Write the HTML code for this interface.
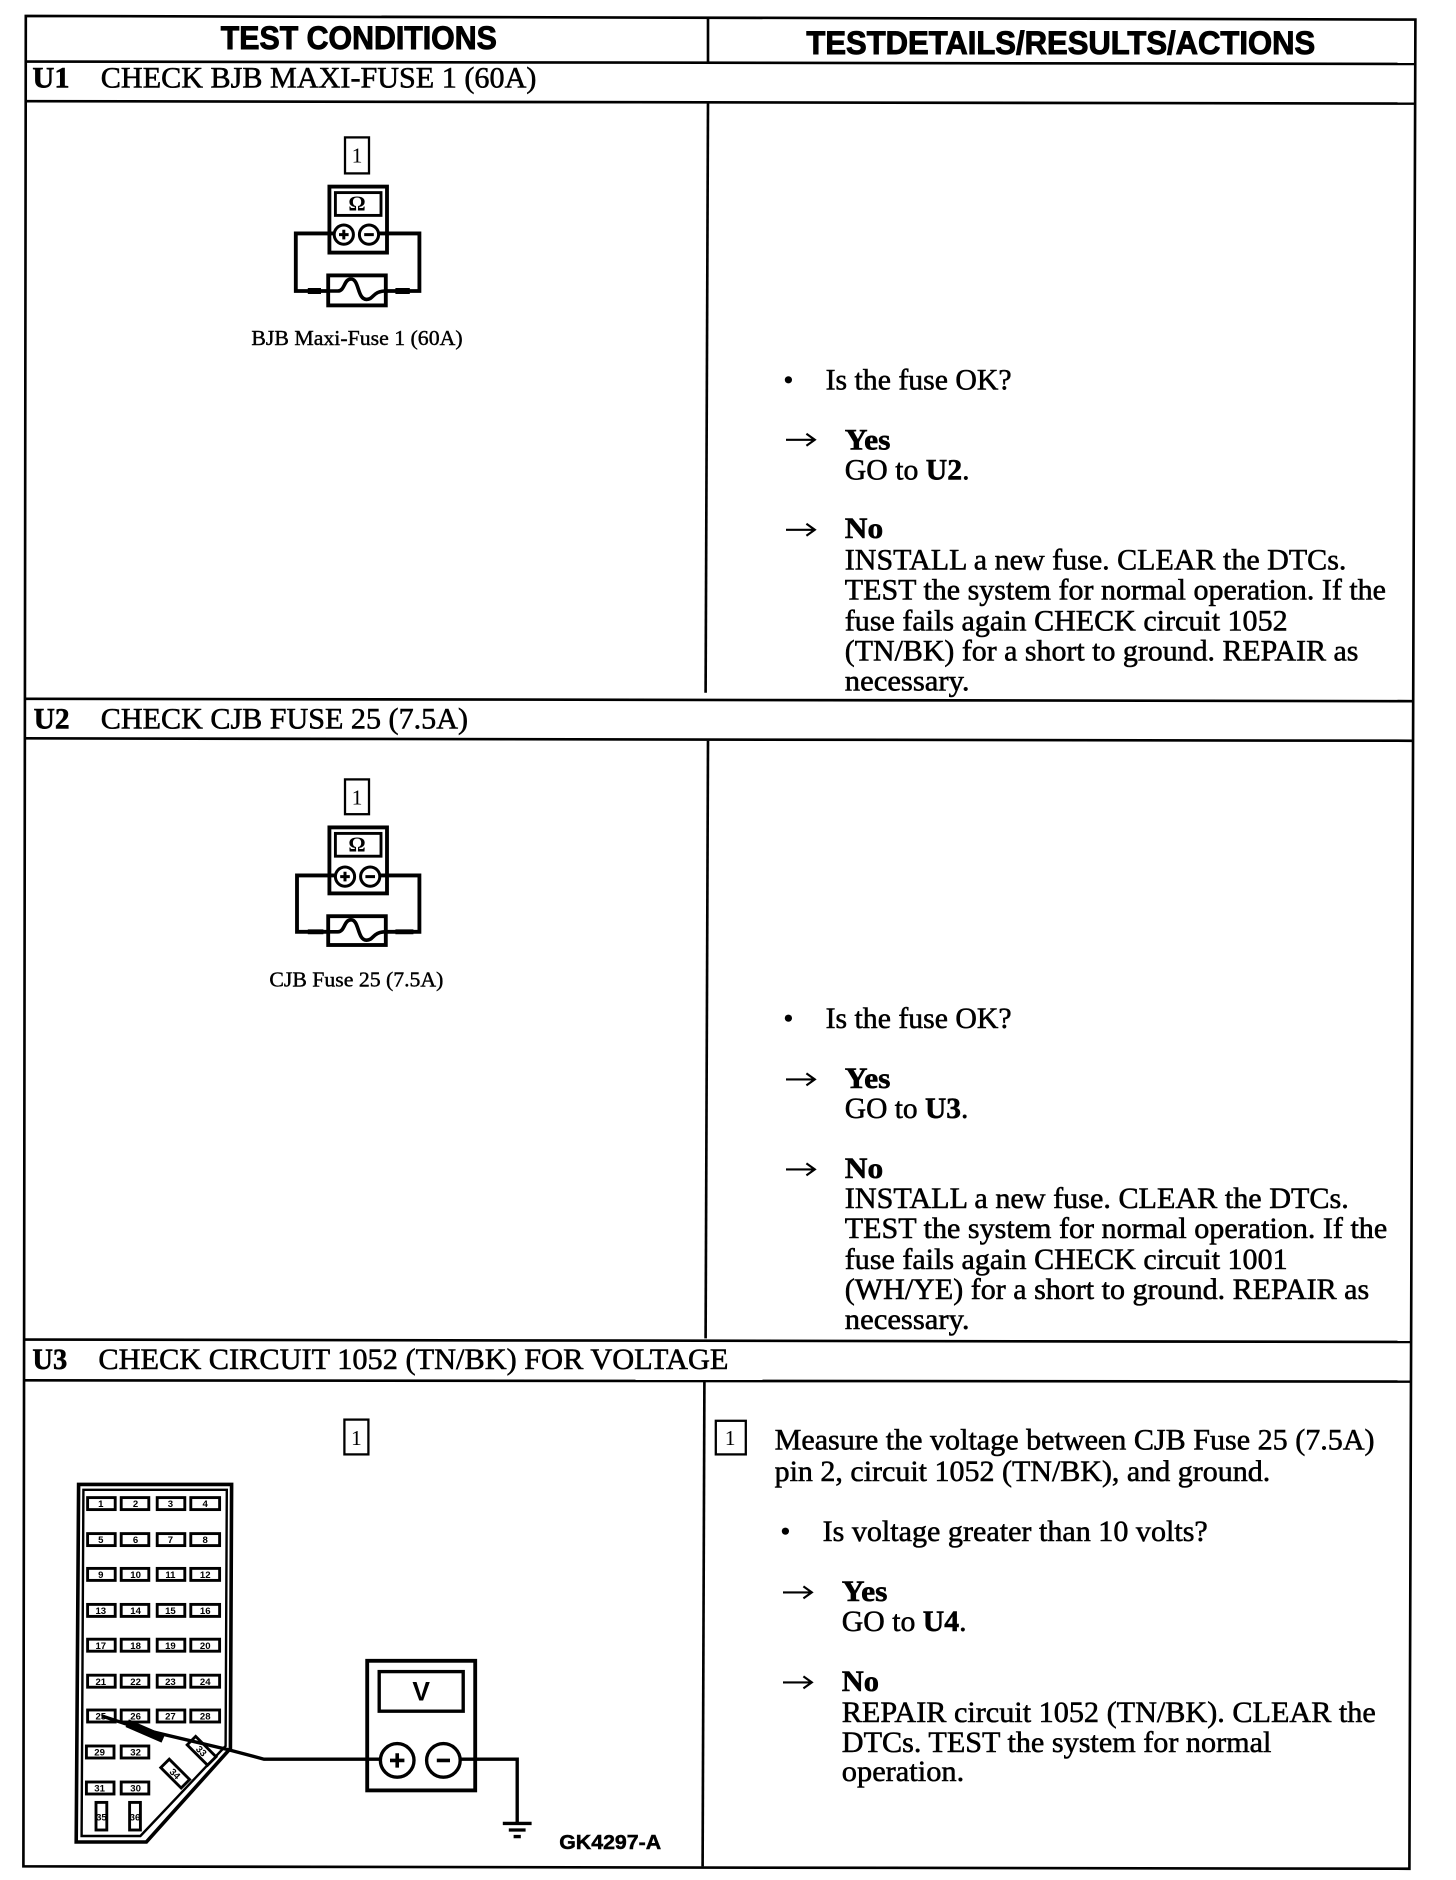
<!DOCTYPE html>
<html><head><meta charset="utf-8"><style>
html,body{margin:0;padding:0;background:#fff;width:1456px;height:1880px;overflow:hidden}
svg{display:block}
.l{stroke:#000;stroke-width:2.200;fill:none}
.s{font-family:"Liberation Serif",serif;font-size:24.500px;fill:#000;stroke:#000;stroke-width:.45}
.b{font-weight:bold}
.h{font-family:"Liberation Sans",sans-serif;font-weight:bold;font-size:27px;fill:#000;stroke:#000;stroke-width:.8}
.c{font-family:"Liberation Serif",serif;font-size:18px;fill:#000;stroke:#000;stroke-width:.35}
.n{font-family:"Liberation Serif",serif;font-size:18px;fill:#000;text-anchor:middle}
.m{stroke:#000;stroke-width:3.200;fill:none}
.f rect{fill:#fff;stroke:#000;stroke-width:2.400}
.f text{font-family:"Liberation Sans",sans-serif;font-weight:bold;font-size:8px;fill:#000;text-anchor:middle}
</style></head><body>
<svg width="1456" height="1880" viewBox="0 0 1213.33 1566.67" xmlns="http://www.w3.org/2000/svg">
<rect x="0" y="0" width="1213.33" height="1566.67" fill="#fff"/>

<!-- table frame -->
<g class="l" transform="translate(-0.500,-0.700)">
<path d="M22 14 L1180 17 L1175 1558 L20 1556 Z"/>
<path d="M22 52 L1180 54"/>
<path d="M22 85 L1179 87"/>
<path d="M21 583 L1178 585"/>
<path d="M21 616 L1178 618"/>
<path d="M21 1117 L1176 1119"/>
<path d="M21 1151 L1176 1152"/>
<path d="M590.500 15 L590.500 52"/>
<path d="M590.500 86 L588.500 578"/>
<path d="M590.500 618 L588.500 1116"/>
<path d="M587.500 1152 L586 1556"/>
</g>

<!-- headers -->
<text class="h" x="184" y="41" textLength="230" lengthAdjust="spacingAndGlyphs">TEST CONDITIONS</text>
<text class="h" x="672" y="45" textLength="424" lengthAdjust="spacingAndGlyphs">TESTDETAILS/RESULTS/ACTIONS</text>

<text class="s b" x="27" y="73" textLength="31" lengthAdjust="spacingAndGlyphs">U1</text>
<text class="s" x="84" y="73" textLength="363" lengthAdjust="spacingAndGlyphs">CHECK BJB MAXI-FUSE 1 (60A)</text>
<text class="s b" x="28" y="607" textLength="30" lengthAdjust="spacingAndGlyphs">U2</text>
<text class="s" x="84" y="607" textLength="306" lengthAdjust="spacingAndGlyphs">CHECK CJB FUSE 25 (7.5A)</text>
<text class="s b" x="27" y="1141" textLength="29" lengthAdjust="spacingAndGlyphs">U3</text>
<text class="s" x="82" y="1141" textLength="525" lengthAdjust="spacingAndGlyphs">CHECK CIRCUIT 1052 (TN/BK) FOR VOLTAGE</text>

<!-- U1 meter -->
<g transform="translate(-0.500,-0.500)">
<rect x="288" y="115" width="20" height="30" fill="none" stroke="#000" stroke-width="1.900"/>
<text class="n" x="298" y="136">1</text>
<rect x="275" y="156" width="48" height="55" class="m"/>
<rect x="280" y="161" width="38" height="19" fill="none" stroke="#000" stroke-width="2.400"/>
<text x="298" y="176" text-anchor="middle" font-family="Liberation Serif,serif" font-size="18" font-weight="bold">Ω</text>
<circle cx="287" cy="196" r="8" fill="none" stroke="#000" stroke-width="2.500"/>
<circle cx="308" cy="196" r="8" fill="none" stroke="#000" stroke-width="2.500"/>
<path d="M283 196 H291 M287 192 V200 M304 196 H312" stroke="#000" stroke-width="2.500"/>
<path d="M279 195 H247 V243 H274 M316 195 H350 V243 H322" class="m"/>
<path d="M257 243 H268 M330 243 H342" stroke="#000" stroke-width="5"/>
<rect x="274" y="230" width="48" height="25" class="m"/>
<path d="M274 243 H282 C288 243 287 233 293 233 C300 233 298 250 306 250 C312 250 311 243 322 243" fill="none" stroke="#000" stroke-width="3"/>
<text class="c" x="210" y="288" textLength="176" lengthAdjust="spacingAndGlyphs">BJB Maxi-Fuse 1 (60A)</text>
</g>

<!-- U2 meter -->
<g transform="translate(-0.500,-0.500)">
<rect x="288" y="650" width="20" height="29" fill="none" stroke="#000" stroke-width="1.900"/>
<text class="n" x="298" y="671">1</text>
<rect x="275" y="690" width="48" height="55" class="m"/>
<rect x="280" y="695" width="38" height="19" fill="none" stroke="#000" stroke-width="2.400"/>
<text x="298" y="710" text-anchor="middle" font-family="Liberation Serif,serif" font-size="18" font-weight="bold">Ω</text>
<circle cx="288" cy="731" r="8" fill="none" stroke="#000" stroke-width="2.500"/>
<circle cx="309" cy="731" r="8" fill="none" stroke="#000" stroke-width="2.500"/>
<path d="M284 731 H292 M288 727 V735 M305 731 H313" stroke="#000" stroke-width="2.500"/>
<path d="M280 730 H248 V777 H275 M317 730 H350 V777 H323" class="m"/>
<path d="M257 777 H270 M330 777 H345" stroke="#000" stroke-width="4"/>
<rect x="274" y="764" width="48" height="24" class="m"/>
<path d="M274 777 H282 C288 777 287 767 293 767 C300 767 298 784 306 784 C312 784 311 777 322 777" fill="none" stroke="#000" stroke-width="3"/>
<text class="c" x="225" y="822.500" textLength="145" lengthAdjust="spacingAndGlyphs">CJB Fuse 25 (7.5A)</text>
</g>

<!-- U1 text -->
<g transform="translate(0,-0.500)">
<circle cx="657" cy="317" r="3" fill="#000"/>
<text class="s" x="688" y="325" textLength="155" lengthAdjust="spacingAndGlyphs">Is the fuse OK?</text>
<path d="M655 367 H678 M672 362 L679 367 L672 372" fill="none" stroke="#000" stroke-width="1.800"/>
<text class="s b" x="704" y="375" textLength="38" lengthAdjust="spacingAndGlyphs">Yes</text>
<text class="s" x="704" y="400" textLength="104" lengthAdjust="spacingAndGlyphs">GO to <tspan class="b">U2</tspan>.</text>
<path d="M655 442 H678 M672 437 L679 442 L672 447" fill="none" stroke="#000" stroke-width="1.800"/>
<text class="s b" x="704" y="449" textLength="32" lengthAdjust="spacingAndGlyphs">No</text>
<text class="s" x="704" y="475" textLength="418" lengthAdjust="spacingAndGlyphs">INSTALL a new fuse. CLEAR the DTCs.</text>
<text class="s" x="704" y="500" textLength="451" lengthAdjust="spacingAndGlyphs">TEST the system for normal operation. If the</text>
<text class="s" x="704" y="526" textLength="369" lengthAdjust="spacingAndGlyphs">fuse fails again CHECK circuit 1052</text>
<text class="s" x="704" y="551" textLength="428" lengthAdjust="spacingAndGlyphs">(TN/BK) for a short to ground. REPAIR as</text>
<text class="s" x="704" y="576" textLength="104" lengthAdjust="spacingAndGlyphs">necessary.</text>
</g>

<!-- U2 text -->
<g transform="translate(0,-1.500)">
<circle cx="657" cy="850" r="3" fill="#000"/>
<text class="s" x="688" y="858" textLength="155" lengthAdjust="spacingAndGlyphs">Is the fuse OK?</text>
<path d="M655 901 H678 M672 896 L679 901 L672 906" fill="none" stroke="#000" stroke-width="1.800"/>
<text class="s b" x="704" y="908" textLength="38" lengthAdjust="spacingAndGlyphs">Yes</text>
<text class="s" x="704" y="933" textLength="103" lengthAdjust="spacingAndGlyphs">GO to <tspan class="b">U3</tspan>.</text>
<path d="M655 976 H678 M672 971 L679 976 L672 981" fill="none" stroke="#000" stroke-width="1.800"/>
<text class="s b" x="704" y="983" textLength="32" lengthAdjust="spacingAndGlyphs">No</text>
<text class="s" x="704" y="1008" textLength="420" lengthAdjust="spacingAndGlyphs">INSTALL a new fuse. CLEAR the DTCs.</text>
<text class="s" x="704" y="1033" textLength="452" lengthAdjust="spacingAndGlyphs">TEST the system for normal operation. If the</text>
<text class="s" x="704" y="1059" textLength="369" lengthAdjust="spacingAndGlyphs">fuse fails again CHECK circuit 1001</text>
<text class="s" x="704" y="1084" textLength="437" lengthAdjust="spacingAndGlyphs">(WH/YE) for a short to ground. REPAIR as</text>
<text class="s" x="704" y="1109" textLength="104" lengthAdjust="spacingAndGlyphs">necessary.</text>
</g>

<!-- U3 text -->
<g transform="translate(-0.500,-2)">
<rect x="597" y="1186" width="25" height="28" fill="none" stroke="#000" stroke-width="1.900"/>
<text class="n" x="609" y="1206">1</text>
<text class="s" x="646" y="1210" textLength="500" lengthAdjust="spacingAndGlyphs">Measure the voltage between CJB Fuse 25 (7.5A)</text>
<text class="s" x="646" y="1236" textLength="413" lengthAdjust="spacingAndGlyphs">pin 2, circuit 1052 (TN/BK), and ground.</text>
<circle cx="655" cy="1278" r="3" fill="#000"/>
<text class="s" x="686" y="1286" textLength="321" lengthAdjust="spacingAndGlyphs">Is voltage greater than 10 volts?</text>
<path d="M653 1329 H676 M670 1324 L677 1329 L670 1334" fill="none" stroke="#000" stroke-width="1.800"/>
<text class="s b" x="702" y="1336" textLength="38" lengthAdjust="spacingAndGlyphs">Yes</text>
<text class="s" x="702" y="1361" textLength="104" lengthAdjust="spacingAndGlyphs">GO to <tspan class="b">U4</tspan>.</text>
<path d="M653 1404 H676 M670 1399 L677 1404 L670 1409" fill="none" stroke="#000" stroke-width="1.800"/>
<text class="s b" x="702" y="1411" textLength="31" lengthAdjust="spacingAndGlyphs">No</text>
<text class="s" x="702" y="1437" textLength="445" lengthAdjust="spacingAndGlyphs">REPAIR circuit 1052 (TN/BK). CLEAR the</text>
<text class="s" x="702" y="1462" textLength="358" lengthAdjust="spacingAndGlyphs">DTCs. TEST the system for normal</text>
<text class="s" x="702" y="1486" textLength="102" lengthAdjust="spacingAndGlyphs">operation.</text>
</g>

<!-- U3 left diagram -->
<rect x="287" y="1183" width="20" height="29" fill="none" stroke="#000" stroke-width="1.900"/>
<text class="n" x="297" y="1204">1</text>

<g transform="translate(0,-1)">
<path d="M65.500 1238 H193 L192 1458 L122 1536 H63.500 Z" fill="none" stroke="#000" stroke-width="3"/>
<path d="M69.500 1242.500 H189 L188 1456 L117 1531 H68 Z" fill="none" stroke="#000" stroke-width="2"/>

<g class="f">
<rect x="73" y="1249" width="23" height="10"/><text x="84" y="1257">1</text>
<rect x="101" y="1249" width="23" height="10"/><text x="113" y="1257">2</text>
<rect x="131" y="1249" width="23" height="10"/><text x="142" y="1257">3</text>
<rect x="159" y="1249" width="24" height="10"/><text x="171" y="1257">4</text>
<rect x="73" y="1279" width="23" height="10"/><text x="84" y="1287">5</text>
<rect x="101" y="1279" width="23" height="10"/><text x="113" y="1287">6</text>
<rect x="131" y="1279" width="23" height="10"/><text x="142" y="1287">7</text>
<rect x="159" y="1279" width="24" height="10"/><text x="171" y="1287">8</text>
<rect x="73" y="1308" width="23" height="10"/><text x="84" y="1316">9</text>
<rect x="101" y="1308" width="23" height="10"/><text x="113" y="1316">10</text>
<rect x="131" y="1308" width="23" height="10"/><text x="142" y="1316">11</text>
<rect x="159" y="1308" width="24" height="10"/><text x="171" y="1316">12</text>
<rect x="73" y="1338" width="23" height="10"/><text x="84" y="1346">13</text>
<rect x="101" y="1338" width="23" height="10"/><text x="113" y="1346">14</text>
<rect x="131" y="1338" width="23" height="10"/><text x="142" y="1346">15</text>
<rect x="159" y="1338" width="24" height="10"/><text x="171" y="1346">16</text>
<rect x="73" y="1367" width="23" height="10"/><text x="84" y="1375">17</text>
<rect x="101" y="1367" width="23" height="10"/><text x="113" y="1375">18</text>
<rect x="131" y="1367" width="23" height="10"/><text x="142" y="1375">19</text>
<rect x="159" y="1367" width="24" height="10"/><text x="171" y="1375">20</text>
<rect x="73" y="1397" width="23" height="10"/><text x="84" y="1405">21</text>
<rect x="101" y="1397" width="23" height="10"/><text x="113" y="1405">22</text>
<rect x="131" y="1397" width="23" height="10"/><text x="142" y="1405">23</text>
<rect x="159" y="1397" width="24" height="10"/><text x="171" y="1405">24</text>
<rect x="73" y="1426" width="23" height="10"/><text x="84" y="1434">25</text>
<rect x="101" y="1426" width="23" height="10"/><text x="113" y="1434">26</text>
<rect x="131" y="1426" width="23" height="10"/><text x="142" y="1434">27</text>
<rect x="159" y="1426" width="24" height="10"/><text x="171" y="1434">28</text>
<rect x="72" y="1456" width="23" height="10"/><text x="83" y="1464">29</text>
<rect x="101" y="1456" width="23" height="10"/><text x="113" y="1464">32</text>
<rect x="72" y="1486" width="23" height="10"/><text x="83" y="1494">31</text>
<rect x="101" y="1486" width="23" height="10"/><text x="113" y="1494">30</text>
<g transform="rotate(45 168 1460)"><rect x="156" y="1455" width="24" height="10"/><text x="168" y="1463">33</text></g>
<g transform="rotate(45 146 1479)"><rect x="134" y="1474" width="24" height="10"/><text x="146" y="1482">34</text></g>
<rect x="80" y="1503" width="9" height="23"/><text x="84.500" y="1518" font-size="7">35</text>
<rect x="108" y="1503" width="9" height="23"/><text x="112.500" y="1518" font-size="7">36</text>
</g>
</g>

<!-- probe wire -->
<path d="M85 1430 L118 1441 L190 1458 L205 1462 L220 1466 H318" fill="none" stroke="#000" stroke-width="2.800"/>
<path d="M106 1436 L136 1449" stroke="#000" stroke-width="7"/>

<!-- voltmeter -->
<g transform="translate(0,-1)">
<rect x="306" y="1385" width="90" height="108" class="m"/>
<rect x="316" y="1394" width="70" height="33" fill="none" stroke="#000" stroke-width="2.800"/>
<text x="351" y="1418" text-anchor="middle" font-family="Liberation Sans,sans-serif" font-weight="bold" font-size="22">V</text>
<circle cx="331" cy="1468" r="14" fill="#fff" stroke="#000" stroke-width="2.800"/>
<circle cx="369.500" cy="1468" r="14" fill="#fff" stroke="#000" stroke-width="2.800"/>
<path d="M325 1468 H337 M331 1462 V1474 M364 1468 H375" stroke="#000" stroke-width="3"/>
<path d="M383.500 1467 H431 V1520" fill="none" stroke="#000" stroke-width="2.800"/>
<path d="M419 1520.500 H443 M424 1526 H438 M428 1531.500 H434" stroke="#000" stroke-width="2.800"/>
</g>
<text x="466" y="1541" font-family="Liberation Sans,sans-serif" font-weight="bold" font-size="17" stroke="#000" stroke-width=".4" textLength="85" lengthAdjust="spacingAndGlyphs">GK4297-A</text>
</svg>
</body></html>
